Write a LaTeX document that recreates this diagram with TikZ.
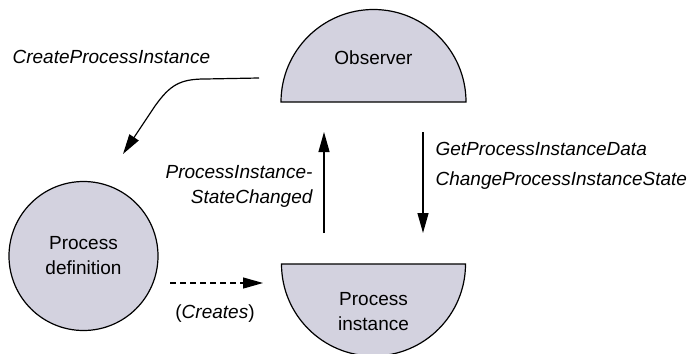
\documentclass[tikz,border=0pt]{standalone}
\usepackage{fontspec}
\setmainfont{Liberation Sans}
\usepackage{xcolor}
\definecolor{shapefill}{RGB}{211,210,223}
\usetikzlibrary{arrows.meta}

\begin{document}
\begin{tikzpicture}[x=0.5pt,y=-0.5pt,
  every node/.style={font=\fontsize{9.5}{12.5}\selectfont},
  blob/.style={draw,fill=shapefill,line width=0.6pt},
  lbl/.style={inner sep=0pt,font=\fontsize{9.5}{12.5}\selectfont\itshape}]
\useasboundingbox (0,0) rectangle (688,353);
\begin{scope}[>={Triangle[length=10pt,width=5.5pt]},line width=0.6pt]

    \filldraw[blob] (281,102) arc[start angle=180,end angle=360,radius=92.5] -- cycle;
    \filldraw[blob] (281.5,264) arc[start angle=180,end angle=0,radius=92] -- cycle;

    \node (observer) at (373.5,58) {Observer};
    \node[align=center] (procinst) at (373.5,312) {Process\\instance};
    \node[blob,shape=circle,minimum size=74.5pt,inner sep=0pt,align=center] (procdef) at (83.5,256) {Process\\definition};

    \coordinate (crt-s) at (259,78);
    \coordinate (crt-e) at (123,154);
    \coordinate (chg-s) at (324,233);
    \coordinate (chg-e) at (324,132);
    \coordinate (get-s) at (423,132);
    \coordinate (get-e) at (423,233);
    \coordinate (dsh-s) at (170,283);
    \coordinate (dsh-e) at (263,283);

    \draw[->] (crt-s) -- (205,79) .. controls (180,79) and (170,85) .. (155,106) -- (crt-e);
    \draw[->] (chg-s) -- (chg-e);
    \draw[->] (get-s) -- (get-e);
    \draw[->,dash pattern=on 3pt off 2pt] (dsh-s) -- (dsh-e);

    \node[lbl,anchor=base west] (create) at (12,63) {CreateProcessInstance};
    \node[lbl,anchor=north east,align=right] (changed) at (313,165) {ProcessInstance-\\StateChanged};
    \node[lbl,anchor=base west] (getdata) at (435,155) {GetProcessInstanceData};
    \node[lbl,anchor=base west] (chstate) at (435,185) {ChangeProcessInstanceState};
    \node[lbl,anchor=base,font=\fontsize{9.5}{12.5}\selectfont] (creates) at (215,318) {(\textit{Creates})};

\end{scope}
\end{tikzpicture}
\end{document}
